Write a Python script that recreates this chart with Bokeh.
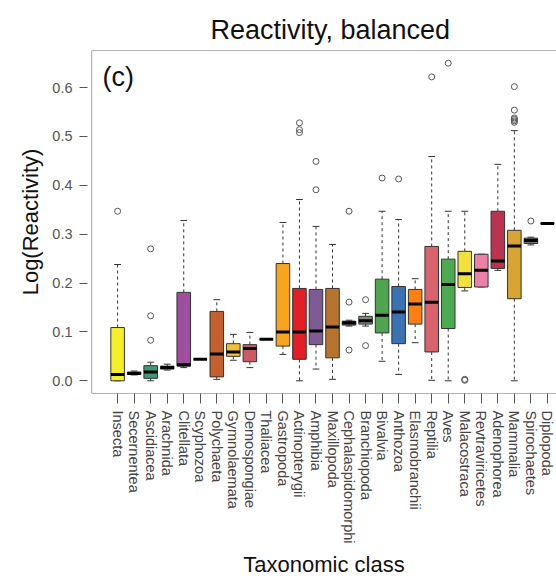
from bokeh.plotting import figure
from bokeh.models import FixedTicker, Label, Range1d, Span
from bokeh.embed import file_html
from bokeh.resources import INLINE

categories = ["Insecta", "Secernentea", "Ascidiacea", "Arachnida", "Clitellata", "Scyphozoa",
              "Polychaeta", "Gymnolaemata", "Demospongiae", "Thaliacea", "Gastropoda",
              "Actinopterygii", "Amphibia", "Maxillopoda", "Cephalaspidomorphi", "Branchiopoda",
              "Bivalvia", "Anthozoa", "Elasmobranchii", "Reptilia", "Aves", "Malacostraca",
              "Revtraviricetes", "Adenophorea", "Mammalia", "Spirochaetes", "Diplopoda"]
whisker_low = [0.000, 0.012, 0.000, 0.022, 0.027, 0.044, 0.003, 0.042, 0.027, 0.085, 0.054, 0.000,
               0.024, 0.003, 0.112, 0.112, 0.040, 0.013, 0.078, 0.001, 0.000, 0.184, 0.192, 0.226,
               0.000, 0.278, 0.322]
q1 = [0.000, 0.013, 0.005, 0.024, 0.030, 0.044, 0.008, 0.050, 0.039, 0.085, 0.071, 0.044, 0.074,
      0.047, 0.114, 0.116, 0.098, 0.076, 0.116, 0.059, 0.107, 0.191, 0.192, 0.230, 0.168, 0.281, 0.322]
median = [0.013, 0.015, 0.018, 0.027, 0.033, 0.044, 0.055, 0.059, 0.066, 0.085, 0.100, 0.100, 0.102,
          0.110, 0.119, 0.123, 0.134, 0.141, 0.157, 0.161, 0.197, 0.219, 0.226, 0.245, 0.276, 0.287, 0.322]
q3 = [0.109, 0.018, 0.031, 0.030, 0.181, 0.044, 0.142, 0.076, 0.074, 0.085, 0.240, 0.189, 0.187,
      0.189, 0.122, 0.132, 0.208, 0.193, 0.187, 0.275, 0.249, 0.265, 0.259, 0.347, 0.308, 0.292, 0.322]
whisker_high = [0.238, 0.020, 0.038, 0.034, 0.328, 0.044, 0.166, 0.095, 0.099, 0.085, 0.324, 0.371,
                0.316, 0.279, 0.124, 0.138, 0.347, 0.330, 0.209, 0.459, 0.347, 0.347, 0.259, 0.443,
                0.512, 0.294, 0.322]
box_colors = ["#F5F02A", "#555555", "#3C9B73", "#555555", "#A04E9F", "#555555", "#C4602D", "#F0C030",
              "#CB5A64", "#555555", "#F8A41C", "#E31E24", "#7D5C96", "#B8732E", "#555555", "#7E8C7E",
              "#4FA54F", "#3A72B3", "#FF8010", "#D8636C", "#4CAA50", "#F2E03C", "#EE80A8", "#BA3350",
              "#D9A532", "#777777", "#555555"]
outlier_class = ["Insecta", "Ascidiacea", "Ascidiacea", "Ascidiacea",
                 "Actinopterygii", "Actinopterygii", "Actinopterygii", "Amphibia", "Amphibia",
                 "Cephalaspidomorphi", "Cephalaspidomorphi", "Cephalaspidomorphi",
                 "Branchiopoda", "Branchiopoda", "Bivalvia", "Anthozoa", "Reptilia", "Aves",
                 "Malacostraca", "Malacostraca", "Mammalia", "Mammalia", "Mammalia", "Mammalia",
                 "Mammalia", "Mammalia", "Spirochaetes"]
outlier_value = [0.347, 0.270, 0.133, 0.083,
                 0.528, 0.514, 0.508, 0.449, 0.391,
                 0.347, 0.161, 0.063,
                 0.166, 0.072, 0.415, 0.413, 0.622, 0.650,
                 0.003, 0.001, 0.602, 0.554, 0.538, 0.535,
                 0.532, 0.529, 0.327]
y_ticks = [0.0, 0.1, 0.2, 0.3, 0.4, 0.5, 0.6]

FONT = "Liberation Sans"
BOX_W = 0.82
CAP_W = 0.41
X0, X1 = -0.58, 27.55
Y0, Y1 = -0.026, 0.676

xs = list(range(1, len(categories) + 1))
pos = {c: i + 1 for i, c in enumerate(categories)}

p = figure(width=556, height=582, output_backend="svg", toolbar_location=None,
           x_range=Range1d(X0, X1), y_range=Range1d(Y0, Y1),
           min_border_left=91, min_border_right=0, min_border_top=50, min_border_bottom=189,
           background_fill_color="white", border_fill_color="white")
p.grid.visible = False
p.outline_line_color = None

# three-sided frame (the right side lies beyond the cropped edge in the reference)
for loc, dim in ((X0, "height"), (Y1, "width"), (Y0, "width")):
    p.add_layout(Span(location=loc, dimension=dim, line_color="#666666", line_width=1.2))

p.title.text = "Reactivity, balanced"
p.title.text_font = FONT
p.title.text_font_size = "27px"
p.title.text_font_style = "normal"
p.title.text_color = "#111111"
p.title.align = "left"
p.title.offset = 119
p.title.standoff = 12

# whiskers
p.segment(x0=xs, y0=q3, x1=xs, y1=whisker_high, line_color="#333333", line_width=1, line_dash="3 3")
p.segment(x0=xs, y0=q1, x1=xs, y1=whisker_low, line_color="#333333", line_width=1, line_dash="3 3")
p.segment(x0=[x - CAP_W / 2 for x in xs], y0=whisker_high, x1=[x + CAP_W / 2 for x in xs],
          y1=whisker_high, line_color="#333333", line_width=1)
p.segment(x0=[x - CAP_W / 2 for x in xs], y0=whisker_low, x1=[x + CAP_W / 2 for x in xs],
          y1=whisker_low, line_color="#333333", line_width=1)
# boxes
p.vbar(x=xs, bottom=q1, top=q3, width=BOX_W, fill_color=box_colors, line_color="#333333", line_width=1)
# medians
p.segment(x0=[x - BOX_W / 2 for x in xs], y0=median, x1=[x + BOX_W / 2 for x in xs], y1=median,
          line_color="black", line_width=3)
# outliers
p.scatter(x=[pos[c] for c in outlier_class], y=outlier_value, marker="circle", size=6,
          fill_color=None, line_color="#555555", line_width=1)

p.add_layout(Label(x=0.085, y=0.622, text="(c)", text_font=FONT, text_font_size="27px",
                   text_baseline="middle", text_align="left", text_color="#111111"))

# axes
xa = p.xaxis[0]
xa.ticker = FixedTicker(ticks=xs)
xa.major_label_overrides = {x: c for x, c in zip(xs, categories)}
xa.major_label_orientation = "vertical"
xa.axis_line_color = None
xa.major_tick_in = 0
xa.major_tick_out = 10
xa.minor_tick_line_color = None
xa.major_tick_line_color = "#555555"
xa.major_label_text_font = FONT
xa.major_label_text_font_size = "14.5px"
xa.major_label_text_color = "#444444"
xa.major_label_standoff = 7
xa.axis_label = "Taxonomic class"
xa.axis_label_text_font = FONT
xa.axis_label_text_font_size = "22px"
xa.axis_label_text_font_style = "normal"
xa.axis_label_text_color = "#111111"
xa.axis_label_standoff = 6

ya = p.yaxis[0]
ya.ticker = FixedTicker(ticks=y_ticks)
ya.major_label_overrides = {t: "%.1f" % t for t in y_ticks}
ya.axis_line_color = None
ya.major_tick_in = -4
ya.major_tick_out = 12
ya.minor_tick_line_color = None
ya.major_tick_line_color = "#555555"
ya.major_label_text_font = FONT
ya.major_label_text_font_size = "14.5px"
ya.major_label_text_color = "#555555"
ya.major_label_standoff = 7
ya.axis_label = "Log(Reactivity)"
ya.axis_label_text_font = FONT
ya.axis_label_text_font_size = "22px"
ya.axis_label_text_font_style = "normal"
ya.axis_label_text_color = "#111111"
ya.axis_label_standoff = 6

open("out.html", "w").write(file_html(p, INLINE))
